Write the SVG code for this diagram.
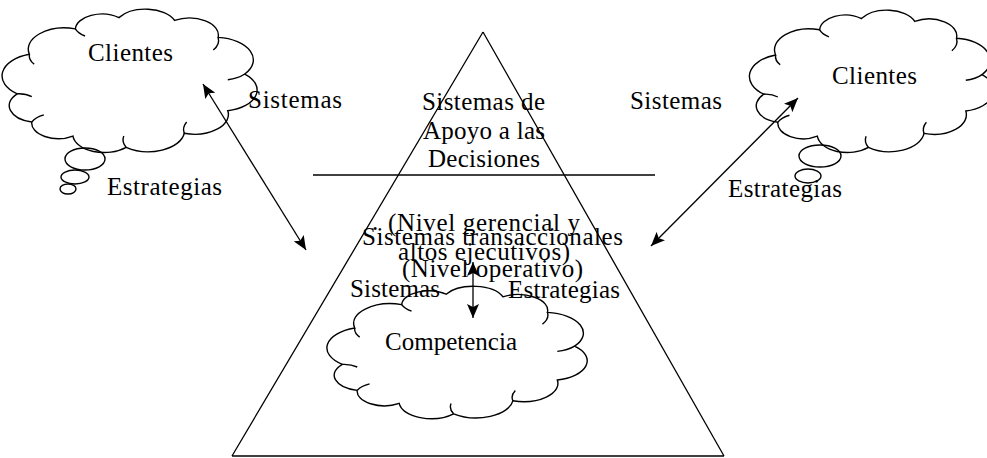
<svg xmlns="http://www.w3.org/2000/svg" width="987" height="458" viewBox="0 0 987 458">
<style>
  .ln{fill:none;stroke:#000;stroke-width:1.3}
  .cl{fill:none;stroke:#000;stroke-width:1.4}
  .t{font-family:"Liberation Serif","Times New Roman",serif;font-size:25px;fill:#000}
</style>
<defs>
  <marker id="ah" viewBox="0 0 14 12" refX="14" refY="6" markerWidth="14" markerHeight="12" markerUnits="userSpaceOnUse" orient="auto-start-reverse">
    <path d="M0,0 L14,6 L0,12 L3,6 z" fill="#000"/>
  </marker>
  <g id="cloud">
    <path vector-effect="non-scaling-stroke" d="M3,58 A16 16 0 0 1 8,30 A15 15 0 0 1 27,12 A11 11 0 0 1 45,4 A13 13 0 0 1 68,6 A12 12 0 0 1 86,18 A16 16 0 0 1 97,44 A15 15 0 0 1 90,70 A14 14 0 0 1 72,86 A15 15 0 0 1 48,96 A13 13 0 0 1 26,88 A11 11 0 0 1 9,78 A12 12 0 0 1 3,58 Z"/>
    <path vector-effect="non-scaling-stroke" d="M8,30 A10 10 0 0 0 10,37 M27,12 A10 10 0 0 0 31,17 M86,18 A12 12 0 0 1 84,27 M97,44 A12 12 0 0 1 90,48 M72,86 A12 12 0 0 1 73,78 M48,96 A12 12 0 0 1 47,88 M9,78 A10 10 0 0 1 14,73 M3,58 A8 8 0 0 1 9,60"/>
  </g>
</defs>
<rect width="987" height="458" fill="#fff"/>

<g id="pyramid">
  <path class="ln" d="M483,32 L232,456 M483,32 L724,456 M232,456 L724,456"/>
  <line class="ln" x1="313" y1="175" x2="655" y2="175"/>
</g>

<g id="clientes-left">
  <use href="#cloud" class="cl" transform="translate(10,12) scale(2.42,1.41)"/>
  <ellipse class="cl" cx="85" cy="159" rx="20" ry="11"/>
  <ellipse class="cl" cx="75" cy="177" rx="14" ry="7"/>
  <ellipse class="cl" cx="68" cy="189" rx="8" ry="5"/>
  <text class="t" x="88" y="61" textLength="85" lengthAdjust="spacing">Clientes</text>
</g>

<g id="clientes-right">
  <use href="#cloud" class="cl" transform="translate(757,13) scale(2.32,1.40)"/>
  <ellipse class="cl" cx="820" cy="156" rx="21" ry="11"/>
  <ellipse class="cl" cx="808" cy="176" rx="13" ry="7"/>
  <text class="t" x="832" y="84" textLength="85" lengthAdjust="spacing">Clientes</text>
</g>

<g id="competencia">
  <use href="#cloud" class="cl" transform="translate(335,289) scale(2.47,1.30)"/>
  <text class="t" x="385" y="350" textLength="132" lengthAdjust="spacing">Competencia</text>
</g>

<g id="connectors">
  <line class="ln" x1="203" y1="84" x2="306" y2="250" marker-start="url(#ah)" marker-end="url(#ah)"/>
  <line class="ln" x1="798" y1="98" x2="651" y2="246" marker-start="url(#ah)" marker-end="url(#ah)"/>
  <line class="ln" x1="473" y1="262" x2="473" y2="318" marker-start="url(#ah)" marker-end="url(#ah)"/>
</g>

<g id="labels">
  <text class="t" x="248" y="108" textLength="94" lengthAdjust="spacing">Sistemas</text>
  <text class="t" x="107" y="195" textLength="115" lengthAdjust="spacing">Estrategias</text>
  <text class="t" x="630" y="109" textLength="92" lengthAdjust="spacing">Sistemas</text>
  <text class="t" x="728" y="197" textLength="114" lengthAdjust="spacing">Estrategias</text>
  <text class="t" x="350" y="297" textLength="90" lengthAdjust="spacing">Sistemas</text>
  <text class="t" x="508" y="298" textLength="112" lengthAdjust="spacing">Estrategias</text>
</g>

<g id="apoyo-decisiones">
  <text class="t" x="422" y="110" textLength="123" lengthAdjust="spacing">Sistemas de</text>
  <text class="t" x="423" y="139" textLength="122" lengthAdjust="spacing">Apoyo a las</text>
  <text class="t" x="428" y="167" textLength="112" lengthAdjust="spacing">Decisiones</text>
</g>

<g id="niveles">
  <text class="t" x="372" y="230">.</text>
  <text class="t" x="388" y="231" textLength="192" lengthAdjust="spacing">(Nivel gerencial y</text>
  <text class="t" x="362" y="245" textLength="261" lengthAdjust="spacing">Sistemas transaccionales</text>
  <text class="t" x="398" y="260" textLength="172" lengthAdjust="spacing">altos ejecutivos)</text>
  <text class="t" x="402" y="277" textLength="181" lengthAdjust="spacing">(Nivel operativo)</text>
</g>
</svg>
